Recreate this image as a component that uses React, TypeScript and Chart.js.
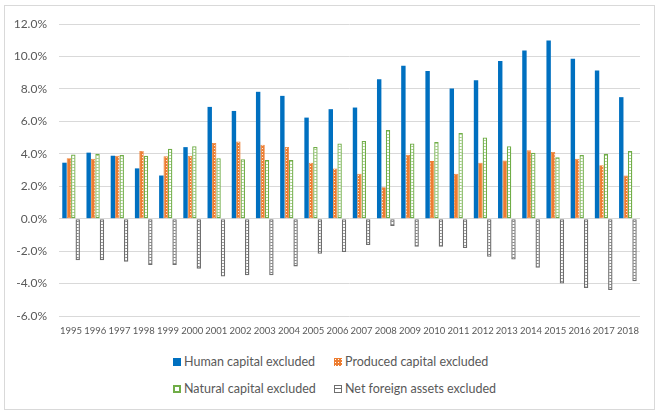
import React, { useEffect, useRef } from "react";
import { Chart, registerables } from "chart.js";

Chart.register(...registerables);

const years = ["1995","1996","1997","1998","1999","2000","2001","2002","2003","2004","2005","2006","2007","2008","2009","2010","2011","2012","2013","2014","2015","2016","2017","2018"];
const humanCapital = [3.45,4.07,3.88,3.1,2.66,4.41,6.89,6.64,7.82,7.57,6.23,6.75,6.85,8.6,9.43,9.1,8.03,8.53,9.72,10.36,10.98,9.86,9.14,7.49];
const producedCapital = [3.73,3.7,3.88,4.17,3.84,3.88,4.66,4.75,4.56,4.42,3.45,3.1,2.77,1.94,3.94,3.55,2.77,3.45,3.59,4.21,4.11,3.7,3.3,2.66];
const naturalCapital = [3.96,4.0,3.92,3.88,4.31,4.46,3.72,3.67,3.61,3.61,4.42,4.64,4.79,5.47,4.64,4.73,5.28,5.0,4.46,4.07,3.78,3.92,4.0,4.17];
const netForeignAssets = [-2.56,-2.56,-2.66,-2.85,-2.85,-3.08,-3.57,-3.49,-3.49,-2.95,-2.17,-2.06,-1.63,-0.45,-1.73,-1.73,-1.81,-2.35,-2.52,-3.03,-4.0,-4.27,-4.4,-3.86];
const seriesLabels = ["Human capital excluded","Produced capital excluded","Natural capital excluded","Net foreign assets excluded"];
const yMin = -6;
const yMax = 12;
const yStep = 2;

const BLUE = "#0070C0";
const ORANGE = "#ED7D31";
const GREEN = "#70AD47";
const GRAY = "#6E6E6E";
const TEXT = "#595959";
const FONT = "Lato, 'Open Sans', sans-serif";

function makePattern(ctx: CanvasRenderingContext2D, w: number, h: number, draw: (c: CanvasRenderingContext2D) => void) {
  const cv = document.createElement("canvas");
  cv.width = w;
  cv.height = h;
  const c = cv.getContext("2d")!;
  draw(c);
  return ctx.createPattern(cv, "repeat") as CanvasPattern;
}

function LegendItem({ label, kind, left, top }: { label: string; kind: number; left: number; top: number }) {
  let marker: React.CSSProperties = { width: 8, height: 8, boxSizing: "border-box", display: "inline-block", marginRight: 3, position: "relative" };
  if (kind === 0) marker = { ...marker, background: BLUE };
  if (kind === 1) marker = { ...marker, background: ORANGE, backgroundImage: "radial-gradient(circle, #fff 0.8px, transparent 1px)", backgroundSize: "3px 3px" };
  if (kind === 2) marker = { ...marker, border: `2px solid ${GREEN}`, background: "#fff" };
  if (kind === 3) marker = { ...marker, border: `1.5px solid ${GRAY}`, background: `linear-gradient(to bottom, transparent 2px, ${GRAY} 2px, ${GRAY} 3px, transparent 3px)` };
  return (
    <div style={{ position: "absolute", left, top, height: 16, lineHeight: "16px", display: "flex", alignItems: "center", fontFamily: FONT, fontSize: 12.5, color: TEXT, whiteSpace: "nowrap" }}>
      <span style={marker} />
      <span>{label}</span>
    </div>
  );
}

export default function App() {
  const ref = useRef<HTMLCanvasElement>(null);
  useEffect(() => {
    const canvas = ref.current!;
    const ctx = canvas.getContext("2d")!;
    const orangePat = makePattern(ctx, 4, 3, (c) => {
      c.fillStyle = ORANGE; c.fillRect(0, 0, 4, 3);
      c.fillStyle = "rgba(255,255,255,0.85)"; c.fillRect(2, 1, 1, 1);
    });
    const greenPat = makePattern(ctx, 4, 3, (c) => {
      c.fillStyle = "#fff"; c.fillRect(0, 0, 4, 3);
      c.fillStyle = "#A9D18E"; c.fillRect(0, 2, 4, 1);
    });
    const grayPat = makePattern(ctx, 4, 3, (c) => {
      c.fillStyle = "#fff"; c.fillRect(0, 0, 4, 3);
      c.fillStyle = "#8a8a8a"; c.fillRect(0, 2, 4, 1);
    });
    const chart = new Chart(canvas, {
      type: "bar",
      data: {
        labels: years,
        datasets: [
          { label: seriesLabels[0], data: humanCapital, backgroundColor: BLUE, borderWidth: 0 },
          { label: seriesLabels[1], data: producedCapital, backgroundColor: orangePat, borderColor: ORANGE, borderWidth: 0.8, borderSkipped: false },
          { label: seriesLabels[2], data: naturalCapital, backgroundColor: greenPat, borderColor: GREEN, borderWidth: 1.3, borderSkipped: false },
          { label: seriesLabels[3], data: netForeignAssets, backgroundColor: grayPat, borderColor: GRAY, borderWidth: 1.4, borderSkipped: false },
        ],
      },
      options: {
        animation: false,
        responsive: false,
        maintainAspectRatio: false,
        layout: { padding: { left: 0, right: 22, top: 24, bottom: 0 } },
        datasets: { bar: { barPercentage: 1, categoryPercentage: 0.73 } },
        plugins: { legend: { display: false }, tooltip: { enabled: false } },
        scales: {
          x: {
            grid: { display: false, drawTicks: false },
            border: { display: false },
            ticks: { color: TEXT, font: { family: FONT, size: 9.5 }, padding: 9, maxRotation: 0, autoSkip: false },
            afterFit: (s: any) => { s.height = 24; },
          },
          y: {
            min: yMin,
            max: yMax,
            grid: { color: "#d9d9d9", lineWidth: 1, drawTicks: false },
            border: { display: false },
            ticks: { stepSize: yStep, color: TEXT, font: { family: FONT, size: 12 }, padding: 12, callback: (v: any) => Number(v).toFixed(1) + "%" },
            afterFit: (s: any) => { s.width = 59; },
          },
        },
      },
    });
    return () => chart.destroy();
  }, []);

  return (
    <div style={{ position: "fixed", left: 0, top: 0, width: 662, height: 418, background: "#fff" }}>
      <div style={{ position: "absolute", left: 4, top: 5, width: 651, height: 405, border: "1px solid #d9d9d9", boxSizing: "border-box" }} />
      <canvas ref={ref} width={662} height={340} style={{ position: "absolute", left: 0, top: 0, width: 662, height: 340 }} />
      <LegendItem label={seriesLabels[0]} kind={0} left={173} top={354} />
      <LegendItem label={seriesLabels[1]} kind={1} left={334} top={354} />
      <LegendItem label={seriesLabels[2]} kind={2} left={173} top={381} />
      <LegendItem label={seriesLabels[3]} kind={3} left={334} top={381} />
    </div>
  );
}
